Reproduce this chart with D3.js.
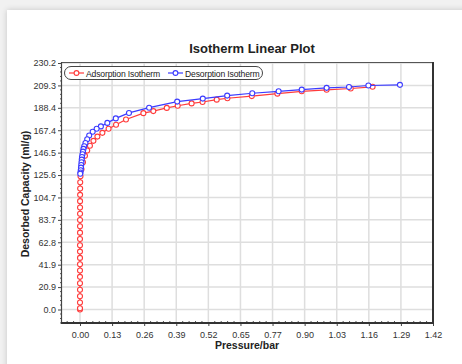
<!DOCTYPE html>
<html>
<head>
<meta charset="utf-8">
<script src="https://cdn.jsdelivr.net/npm/d3@7"></script>
<style>
  html, body { margin: 0; padding: 0; background: #f1f1f1; }
  body { width: 462px; height: 364px; overflow: hidden; position: relative; }
  .card { position: absolute; left: 7px; top: 10px; width: 470px; height: 370px;
          background: #fff; box-shadow: 0 0 6px rgba(0,0,0,0.18); }
  svg { position: absolute; left: 0; top: 0; }
  text { font-family: "Liberation Sans", Arial, sans-serif; }
</style>
</head>
<body>
<div class="card"></div>
<div id="chart"></div>
<script>
// tick labels as printed on the chart
var xTickLabels = ["0.00","0.13","0.26","0.39","0.52","0.65","0.77","0.90","1.03","1.16","1.29","1.42"];
var yTickLabels = ["0.0","20.9","41.9","62.8","83.7","104.7","125.6","146.5","167.4","188.4","209.3","230.2"];
var xMax = 1.42, yMax = 230.23;

// adsorption isotherm: pressure (bar), capacity (ml/g)
var adsPressure = [0.0000,0.0000,0.0000,0.0000,0.0000,0.0000,0.0000,0.0000,0.0000,0.0000,0.0000,0.0000,0.0000,
  0.0001,0.0001,0.0001,0.0002,0.0002,0.0003,0.0004,0.0006,0.0009,0.002,0.006,0.012,0.020,0.029,0.040,0.054,
  0.070,0.090,0.115,0.145,0.185,0.255,0.295,0.349,0.393,0.449,0.493,0.550,0.593,0.691,0.794,0.892,0.992,1.089,1.177];
var adsCapacity = [0.0,1.2,6.6,12.4,18.5,24.5,30.5,36.4,42.3,48.2,54.1,60.0,65.9,
  71.8,77.7,83.6,89.5,95.3,101.2,107.1,113.0,118.9,124.5,131.0,137.5,143.5,148.5,153.0,157.5,
  161.5,165.0,168.8,172.5,177.5,183.4,185.3,188.3,190.3,192.5,193.8,196.0,197.3,199.3,201.6,203.8,205.2,206.4,208.0];

// desorption isotherm
var desPressure = [1.287,1.160,1.082,0.992,0.892,0.799,0.693,0.592,0.494,0.391,0.278,0.197,0.144,0.110,0.084,
  0.067,0.051,0.037,0.029,0.022,0.017,0.014,0.012,0.010,0.008,0.007,0.006,0.005,0.004,0.003,0.002,0.001];
var desCapacity = [209.8,209.2,207.8,207.0,205.4,203.8,202.0,199.8,197.0,194.2,188.5,183.6,178.5,174.3,171.0,
  168.8,166.0,162.5,159.0,155.5,152.5,150.0,147.5,145.0,142.5,140.0,137.5,135.0,132.5,130.0,128.0,126.8];

var seriesNames = ["Adsorption Isotherm", "Desorption Isotherm"];
var seriesColors = ["#ff3b3b", "#3b3bff"];

var W = 462, H = 364;
var pLeft = 62, pRight = 433, pTop = 63, pBottom = 323;

var svg = d3.select("#chart").append("svg").attr("width", W).attr("height", H);

var x = d3.scaleLinear().domain([-0.0724, xMax]).range([pLeft, pRight]);
var y = d3.scaleLinear().domain([-12.6, yMax]).range([pBottom, pTop]);

var xTicks = xTickLabels.map(function(d, i) { return i * xMax / (xTickLabels.length - 1); });
var yTicks = yTickLabels.map(function(d, i) { return i * yMax / (yTickLabels.length - 1); });

// grid
var grid = svg.append("g");
grid.selectAll("line.v").data(xTicks).enter().append("line")
  .attr("x1", function(d) { return x(d); }).attr("x2", function(d) { return x(d); })
  .attr("y1", pTop).attr("y2", pBottom)
  .attr("stroke", "#dedede").attr("stroke-width", 1.5);
grid.selectAll("line.h").data(yTicks).enter().append("line")
  .attr("y1", function(d) { return y(d); }).attr("y2", function(d) { return y(d); })
  .attr("x1", pLeft).attr("x2", pRight)
  .attr("stroke", "#dedede").attr("stroke-width", 1.5);

// minor ticks
var xMinor = [], yMinor = [];
for (var i = -1; i < xTicks.length; i++) for (var k = 1; k < 5; k++) {
  var v = (i + k / 5) * xMax / 11; if (x(v) > pLeft && x(v) < pRight) xMinor.push(v);
}
for (var j = -1; j < yTicks.length; j++) for (var m = 1; m < 5; m++) {
  var w = (j + m / 5) * yMax / 11; if (y(w) < pBottom && y(w) > pTop) yMinor.push(w);
}

// axes
var xAxis = d3.axisBottom(x).tickValues(xTicks)
  .tickFormat(function(d, i) { return xTickLabels[i]; }).tickSize(3).tickSizeOuter(0);
var yAxis = d3.axisLeft(y).tickValues(yTicks)
  .tickFormat(function(d, i) { return yTickLabels[i]; }).tickSize(4).tickSizeOuter(0);

var gx = svg.append("g").attr("transform", "translate(0," + pBottom + ")").call(xAxis);
gx.select(".domain").remove();
gx.selectAll(".tick line").attr("stroke", "#444").attr("y2", 3);
gx.selectAll(".tick text").attr("y", 9).attr("dy", "0.71em")
  .attr("font-size", "9px").attr("fill", "#333").attr("font-family", "Liberation Sans, Arial, sans-serif");

var gy = svg.append("g").attr("transform", "translate(" + pLeft + ",0)").call(yAxis);
gy.select(".domain").remove();
gy.selectAll(".tick line").attr("stroke", "#444");
gy.selectAll(".tick text").attr("x", -6)
  .attr("font-size", "9px").attr("fill", "#333").attr("font-family", "Liberation Sans, Arial, sans-serif");

svg.append("g").selectAll("line").data(xMinor).enter().append("line")
  .attr("x1", function(d) { return x(d); }).attr("x2", function(d) { return x(d); })
  .attr("y1", pBottom).attr("y2", pBottom - 2).attr("stroke", "#555");
svg.append("g").selectAll("line").data(yMinor).enter().append("line")
  .attr("y1", function(d) { return y(d); }).attr("y2", function(d) { return y(d); })
  .attr("x1", pLeft).attr("x2", pLeft - 2).attr("stroke", "#555");

// frame
svg.append("line").attr("x1", pLeft).attr("x2", pRight).attr("y1", pTop - 0.5).attr("y2", pTop - 0.5)
  .attr("stroke", "#555").attr("stroke-width", 1);
svg.append("line").attr("x1", pLeft - 0.5).attr("x2", pLeft - 0.5).attr("y1", pTop - 1).attr("y2", pBottom)
  .attr("stroke", "#444").attr("stroke-width", 1.2);
svg.append("line").attr("x1", pLeft - 1).attr("x2", pRight + 1).attr("y1", pBottom).attr("y2", pBottom)
  .attr("stroke", "#333").attr("stroke-width", 2);
svg.append("line").attr("x1", pRight).attr("x2", pRight).attr("y1", pTop - 1).attr("y2", pBottom + 1)
  .attr("stroke", "#333").attr("stroke-width", 2);

// series
var series = [
  d3.zip(adsPressure, adsCapacity),
  d3.zip(desPressure, desCapacity)
];
var line = d3.line().x(function(d) { return x(d[0]); }).y(function(d) { return y(d[1]); });

series.forEach(function(s, si) {
  var g = svg.append("g");
  g.append("path").datum(s).attr("d", line).attr("fill", "none")
    .attr("stroke", seriesColors[si]).attr("stroke-width", 1.2);
  g.selectAll("circle").data(s).enter().append("circle")
    .attr("cx", function(d) { return x(d[0]); }).attr("cy", function(d) { return y(d[1]); })
    .attr("r", 2.5).attr("fill", "#fff").attr("stroke", seriesColors[si]).attr("stroke-width", 1.1);
});

// legend
var lg = svg.append("g");
lg.append("rect").attr("x", 64.5).attr("y", 66.5).attr("width", 198).attr("height", 13).attr("rx", 6.5)
  .attr("fill", "#fff").attr("stroke", "#444").attr("stroke-width", 1);
var legendX = [69, 168];
seriesNames.forEach(function(n, i) {
  lg.append("line").attr("x1", legendX[i]).attr("x2", legendX[i] + 15).attr("y1", 73).attr("y2", 73)
    .attr("stroke", seriesColors[i]).attr("stroke-width", 1.2);
  lg.append("circle").attr("cx", legendX[i] + 7.5).attr("cy", 73).attr("r", 2.4)
    .attr("fill", "#fff").attr("stroke", seriesColors[i]).attr("stroke-width", 1.1);
  lg.append("text").attr("x", legendX[i] + 17).attr("y", 76.5).attr("font-size", "8.6px")
    .attr("letter-spacing", "-0.15px").attr("fill", "#222").text(n);
});

// titles
svg.append("text").attr("x", 252).attr("y", 53).attr("text-anchor", "middle")
  .attr("font-size", "13px").attr("font-weight", "bold").attr("fill", "#222").text("Isotherm Linear Plot");
svg.append("text").attr("x", 247).attr("y", 349).attr("text-anchor", "middle")
  .attr("font-size", "10.5px").attr("font-weight", "bold").attr("fill", "#222").text("Pressure/bar");
svg.append("text").attr("transform", "translate(29,194) rotate(-90)").attr("text-anchor", "middle")
  .attr("font-size", "10.5px").attr("font-weight", "bold").attr("fill", "#222").text("Desorbed Capacity (ml/g)");
</script>
</body>
</html>
